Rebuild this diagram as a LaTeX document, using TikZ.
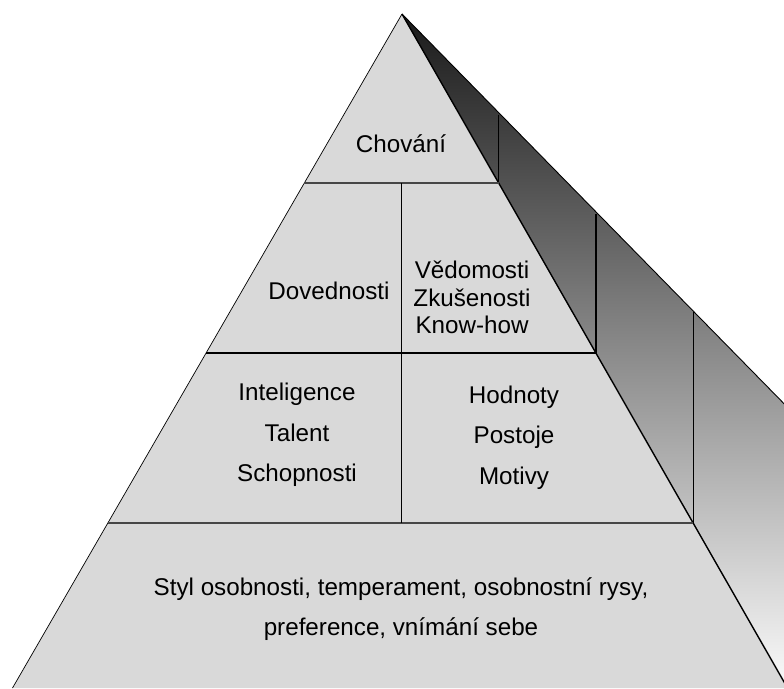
\documentclass[tikz,border=0pt]{standalone}
\usepackage{fontspec}
\setmainfont{Liberation Sans}
\definecolor{faceGray}{RGB}{217,217,217}
\definecolor{rimGray}{RGB}{70,70,70}
\begin{document}
\begin{tikzpicture}[x=1pt,y=-1pt,
  label text/.style={anchor=base,inner sep=0pt,font=\fontsize{24.2}{28}\selectfont},
  edge line/.style={draw=black,line width=1.1pt,line join=round},
  layer line/.style={draw=rimGray,line width=1.2pt},
  cell line/.style={draw=black,line width=1.2pt}]
\useasboundingbox (0,0) rectangle (784,688);
\begin{scope}
\clip (0,0) rectangle (784,688);
% key points of the pyramid
\coordinate (apex) at (402,14);
\coordinate (bl) at (12.5,688);
\coordinate (br) at (787.5,688);
\coordinate (outer) at (800,420);
\coordinate (outerlow) at (800,700);
% points where the layer boundaries meet the edges
\coordinate (l1L) at (304.3,183);
\coordinate (l1R) at (498.7,183);
\coordinate (l2L) at (206,353);
\coordinate (l2R) at (595.9,353);
\coordinate (l3L) at (108,523);
\coordinate (l3R) at (693.1,523);
% matching points on the rear rim of the side face
\coordinate (r1) at (498.7,114.6);
\coordinate (r2) at (595.9,213.7);
\coordinate (r3) at (693.1,311.8);
% divider between the two middle columns
\coordinate (dTop) at (401.5,183);
\coordinate (dBot) at (401.5,523);

% shaded side face
\shade[top color=black!90,bottom color=white]
  (apex) -- (outer) -- (outerlow) -- (br) -- cycle;
\draw[black,line width=0.9pt] (apex) -- (outer);
\draw[cell line] (l1R) -- (r1);
\draw[cell line] (l2R) -- (r2);
\draw[cell line] (l3R) -- (r3);

% front face
\fill[faceGray] (apex) -- (br) -- (bl) -- cycle;
\draw[black,line width=0.7pt] (apex) -- (bl);
\draw[edge line,line width=1.4pt] (apex) -- (br);

% layer boundaries
\draw[layer line] (l1L) -- (l1R);
\draw[cell line] (l2L) -- (l2R);
\draw[layer line] (l3L) -- (l3R);
\draw[cell line] (dTop) -- (dBot);
\end{scope}

% labels
\node[label text] (chovani) at (401,152) {Chování};
\node[label text] (dovednosti) at (329,299) {Dovednosti};
\node[label text] (vedomosti) at (472,278) {Vědomosti};
\node[label text] (zkusenosti) at (472,306) {Zkušenosti};
\node[label text] (knowhow) at (472,333.5) {Know-how};
\node[label text] (inteligence) at (297,400) {Inteligence};
\node[label text] (talent) at (297,441) {Talent};
\node[label text] (schopnosti) at (297,481.5) {Schopnosti};
\node[label text] (hodnoty) at (514,403) {Hodnoty};
\node[label text] (postoje) at (514,443.5) {Postoje};
\node[label text] (motivy) at (514,484.5) {Motivy};
\node[label text] (styl) at (401,595.5) {Styl osobnosti, temperament, osobnostní rysy,};
\node[label text] (preference) at (401,635.5) {preference, vnímání sebe};
\end{tikzpicture}
\end{document}
